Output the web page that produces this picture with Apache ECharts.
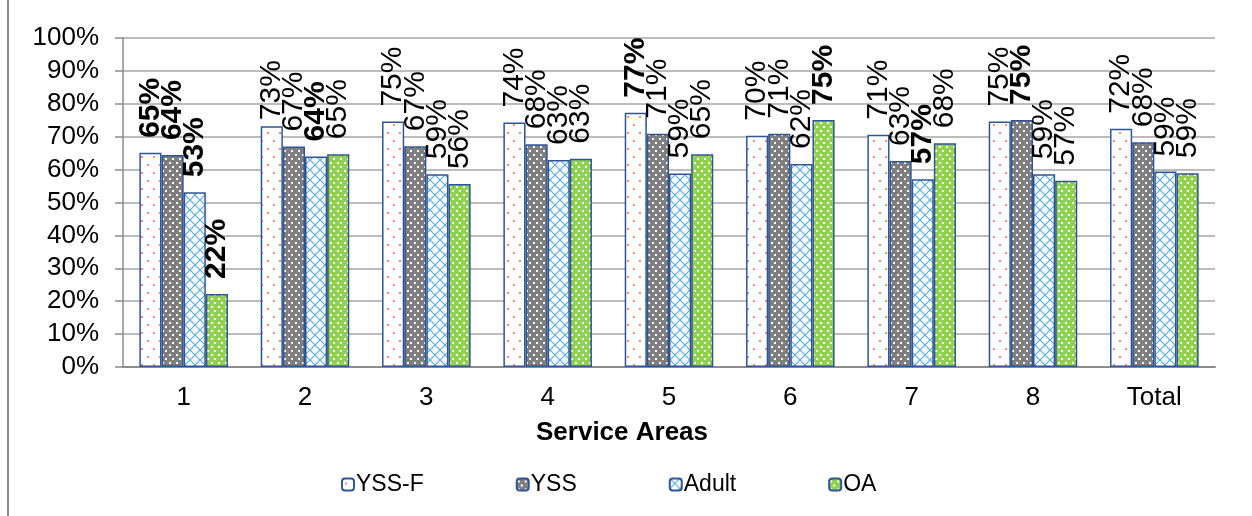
<!DOCTYPE html>
<html lang="en">
<head>
  <meta charset="UTF-8">
  <title>Service Areas</title>
  <script src="https://cdn.jsdelivr.net/npm/echarts@6/dist/echarts.min.js"></script>
</head>
<body style="margin:0;width:1252px;height:516px;overflow:hidden;background:#fff;">
  <div id="main" style="width:1252px;height:516px;"></div>
</body>
<script>
  var categories = ['1', '2', '3', '4', '5', '6', '7', '8', 'Total'];
  var seriesNames = ['YSS-F', 'YSS', 'Adult', 'OA'];
  var yssF  = [65.1, 73.2, 74.6, 74.3, 77.3, 70.3, 70.6, 74.6, 72.4];
  var yss   = [64.4, 67.0, 67.1, 67.7, 70.9, 70.9, 62.6, 75.1, 68.3];
  var adult = [53.1, 64.0, 58.6, 62.9, 58.8, 61.7, 57.1, 58.6, 59.4];
  var oa    = [22.2, 64.7, 55.6, 63.3, 64.7, 75.1, 68.0, 56.6, 58.9];
  var yTicks = [0, 10, 20, 30, 40, 50, 60, 70, 80, 90, 100];

  // which labels are bold: [series, category]
  var boldLabels = [[0, 0], [1, 0], [2, 0], [3, 0], [2, 1], [0, 4], [3, 5], [2, 6], [1, 7]];

  var FONT = 'Liberation Sans, Arial, sans-serif';

  // small canvas tiles for the excel-like fill patterns
  function tile(w, h, draw) {
    var c = document.createElement('canvas');
    c.width = w; c.height = h;
    draw(c.getContext('2d'));
    return { image: c, repeat: 'repeat' };
  }
  function dots(bg, fg, w, h, pts, r) {
    return tile(w, h, function (g) {
      g.fillStyle = bg; g.fillRect(0, 0, w, h);
      g.fillStyle = fg;
      pts.forEach(function (p) { g.fillRect(p[0], p[1], r, r); });
    });
  }
  var fills = [
    dots('#ffffff', '#ef8f6b', 12, 16, [[3, 4], [9, 12]], 2),
    dots('#7f7f7f', '#ffffff', 7, 8, [[1, 2], [4, 6]], 2),
    tile(10, 10, function (g) {
      g.fillStyle = '#fff'; g.fillRect(0, 0, 10, 10);
      g.strokeStyle = '#5aaadd'; g.lineWidth = 1.2;
      g.beginPath();
      g.moveTo(0, 0); g.lineTo(10, 10);
      g.moveTo(10, 0); g.lineTo(0, 10);
      g.stroke();
    }),
    dots('#92d050', '#ffffff', 7, 8, [[1, 2], [4, 6]], 2)
  ];

  var allValues = [yssF, yss, adult, oa];

  function isBold(s, i) {
    return boldLabels.some(function (b) { return b[0] === s && b[1] === i; });
  }

  var series = allValues.map(function (vals, s) {
    return {
      name: seriesNames[s],
      type: 'bar',
      barGap: '0%',
      barCategoryGap: '27%',
      itemStyle: { color: fills[s], borderColor: '#2f5597', borderWidth: 1.5 },
      label: {
        show: true,
        position: 'top',
        rotate: 90,
        align: 'left',
        verticalAlign: 'middle',
        distance: 15,
        fontSize: 30,
        color: '#000',
        fontFamily: FONT,
        formatter: function (p) { return Math.round(p.value) + '%'; }
      },
      data: vals.map(function (v, i) {
        var item = { value: v };
        var lab = {};
        if (isBold(s, i)) lab.fontWeight = 'bold';
        if (s === 0 && i === 1) lab.distance = 6;
        item.label = lab;
        return item;
      })
    };
  });

  var myChart = echarts.init(document.getElementById('main'));
  var option = {
    backgroundColor: '#fff',
    animation: false,
    textStyle: { fontFamily: FONT },
    title: {
      text: 'Service Areas',
      left: 531,
      top: 415,
      textStyle: { fontSize: 26, fontWeight: 'bold', color: '#000', fontFamily: FONT }
    },
    legend: {
      left: 336,
      top: 468,
      itemWidth: 12,
      itemHeight: 12,
      itemGap: 92,
      textStyle: { fontSize: 23, color: '#000', padding: [0, 0, 0, -3] },
      data: seriesNames
    },
    graphic: [{
      type: 'line',
      shape: { x1: 8, y1: 0, x2: 8, y2: 516 },
      style: { stroke: '#8c8c8c', lineWidth: 2 }
    }],
    grid: { left: 123, right: 37, top: 38, bottom: 149 },
    xAxis: {
      type: 'category',
      data: categories,
      axisLine: { lineStyle: { color: '#8c8c8c', width: 2 } },
      axisTick: { show: false },
      axisLabel: { fontSize: 26, color: '#000', margin: 18 }
    },
    yAxis: {
      type: 'value',
      min: yTicks[0],
      max: yTicks[yTicks.length - 1],
      interval: 10,
      axisLine: { show: true, lineStyle: { color: '#8c8c8c', width: 1.5 } },
      axisTick: { show: true, length: 8, lineStyle: { color: '#8c8c8c', width: 1.5 } },
      splitLine: { lineStyle: { color: '#a6a6a6', width: 1.5 } },
      axisLabel: { fontSize: 26, color: '#000', margin: 24, formatter: '{value}%' }
    },
    series: series
  };
  myChart.setOption(option);
</script>
</html>
